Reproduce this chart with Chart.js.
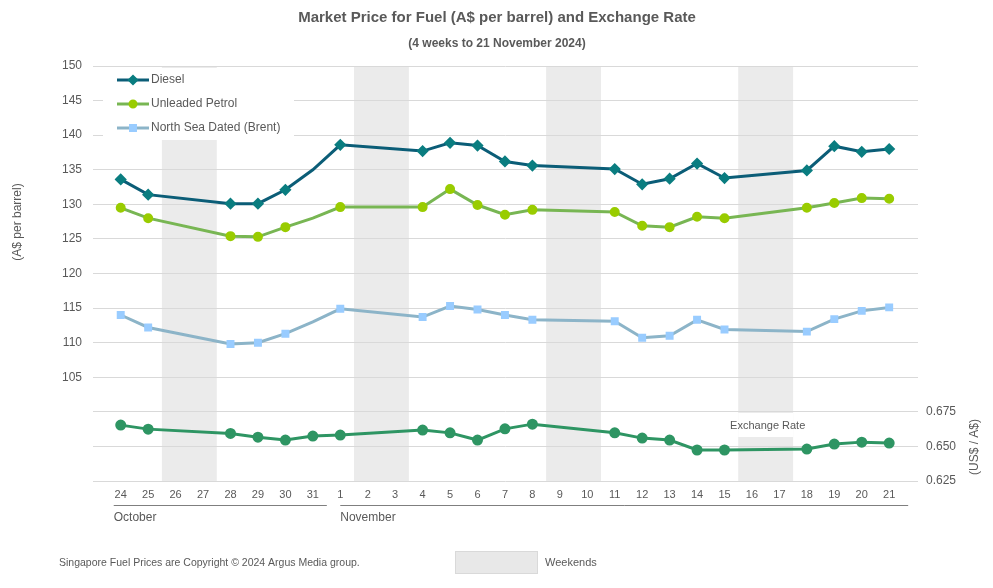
<!DOCTYPE html>
<html>
<head>
<meta charset="utf-8">
<title>Market Price for Fuel and Exchange Rate</title>
<script src="https://cdn.jsdelivr.net/npm/chart.js@4.4.1/dist/chart.umd.min.js"></script>
<style>
    html, body { margin: 0; padding: 0; background: #fff; }
    #fuelChart { display: block; }
</style>
</head>
<body>
<canvas id="fuelChart" width="993" height="588"></canvas>
<script>
// ===== DATA =====
const dayLabels = ['24','25','26','27','28','29','30','31','1','2','3','4','5','6','7','8','9','10','11','12','13','14','15','16','17','18','19','20','21'];
const months = [
    { name: 'October', from: 0, to: 7 },
    { name: 'November', from: 8, to: 28 }
];
const weekends = [[2, 3], [9, 10], [16, 17], [23, 24]];

// A$ per barrel (null = weekend)
const diesel   = [133.6, 131.4, null, null, 130.1, 130.1, 132.1, 135.0, 138.6, null, null, 137.7, 138.9, 138.5, 136.2, 135.6, null, null, 135.1, 132.9, 133.7, 135.9, 133.8, null, null, 134.9, 138.4, 137.6, 138.0];
const unleaded = [129.5, 128.0, null, null, 125.4, 125.3, 126.7, 128.0, 129.6, null, null, 129.6, 132.2, 129.9, 128.5, 129.2, null, null, 128.9, 126.9, 126.7, 128.2, 128.0, null, null, 129.5, 130.2, 130.9, 130.8];
const brent    = [114.0, 112.2, null, null, 109.8, 110.0, 111.3, 113.0, 114.9, null, null, 113.7, 115.3, 114.8, 114.0, 113.3, null, null, 113.1, 110.7, 111.0, 113.3, 111.9, null, null, 111.6, 113.4, 114.6, 115.1];
// US$ / A$
const exchangeRate = [0.6654, 0.6625, null, null, 0.6594, 0.6567, 0.6546, 0.6575, 0.6582, null, null, 0.6618, 0.6598, 0.6546, 0.6627, 0.6661, null, null, 0.6598, 0.6560, 0.6546, 0.6474, 0.6474, null, null, 0.6481, 0.6517, 0.6531, 0.6524];
// fuel prices for 31 Oct are drawn without a marker
const fuelNoMarker = [7];

const TEXT = '#595959';
const FONT = '"Liberation Sans", Arial, sans-serif';

function toPoints(values) {
    return values.map((v, i) => ({ x: i, y: v }));
}

function radii(values, r, skip) {
    return values.map((v, i) => (skip.includes(i) ? 0 : r));
}

// ===== PLUGINS =====
// weekend bands behind the grid
const weekendBands = {
    id: 'weekendBands',
    beforeDraw(chart) {
        const { ctx, chartArea, scales } = chart;
        const xs = scales.x;
        const half = (xs.getPixelForValue(1) - xs.getPixelForValue(0)) / 2;
        ctx.save();
        ctx.fillStyle = '#ebebeb';
        weekends.forEach(([a, b]) => {
            const x0 = xs.getPixelForValue(a) - half;
            const x1 = xs.getPixelForValue(b) + half;
            ctx.fillRect(x0, chartArea.top + 1, x1 - x0, chartArea.bottom - chartArea.top - 1);
        });
        ctx.restore();
    }
};

// legend box, "Exchange Rate" label, titles and footer
const decorations = {
    id: 'decorations',
    beforeDatasetsDraw(chart) {
        const { ctx, chartArea, scales } = chart;
        const xs = scales.x;
        const half = (xs.getPixelForValue(1) - xs.getPixelForValue(0)) / 2;
        ctx.save();
        ctx.fillStyle = '#ffffff';
        // legend background
        ctx.fillRect(103, chartArea.top + 2, 191, 72);
        // exchange rate label background
        const lx0 = xs.getPixelForValue(23) - half;
        const lx1 = xs.getPixelForValue(24) + half;
        ctx.fillRect(lx0, 413, lx1 - lx0, 24);
        ctx.fillStyle = TEXT;
        ctx.font = '11px ' + FONT;
        ctx.textAlign = 'center';
        ctx.textBaseline = 'middle';
        ctx.fillText('Exchange Rate', (lx0 + lx1) / 2 + 2, 426);
        ctx.restore();
    },
    afterDraw(chart) {
        const { ctx, scales } = chart;
        const xs = scales.x;
        ctx.save();
        ctx.fillStyle = TEXT;
        ctx.textBaseline = 'middle';

        // titles
        ctx.textAlign = 'center';
        ctx.font = 'bold 15px ' + FONT;
        ctx.fillText('Market Price for Fuel (A$ per barrel) and Exchange Rate', 497, 18);
        ctx.font = 'bold 12px ' + FONT;
        ctx.fillText('(4 weeks to 21 November 2024)', 497, 44);

        // axis titles
        ctx.font = '12px ' + FONT;
        ctx.save();
        ctx.translate(18, 222);
        ctx.rotate(-Math.PI / 2);
        ctx.fillText('(A$ per barrel)', 0, 0);
        ctx.restore();
        ctx.save();
        ctx.translate(975, 447);
        ctx.rotate(-Math.PI / 2);
        ctx.fillText('(US$ / A$)', 0, 0);
        ctx.restore();

        // month brackets
        ctx.strokeStyle = '#7f7f7f';
        ctx.lineWidth = 1;
        ctx.textAlign = 'left';
        ctx.font = '12px ' + FONT;
        months.forEach((m, i) => {
            const x0 = xs.getPixelForValue(m.from) - (i === 0 ? 7 : 0);
            const x1 = xs.getPixelForValue(m.to) + (i === 0 ? 14 : 19);
            ctx.beginPath();
            ctx.moveTo(x0, 505.5);
            ctx.lineTo(x1, 505.5);
            ctx.stroke();
            ctx.fillText(m.name, x0, 518);
        });

        // legend entries
        const items = [
            { label: 'Diesel', line: '#0b5d77', fill: '#0a7d80', style: 'rectRot', r: 3.5 },
            { label: 'Unleaded Petrol', line: '#78b653', fill: '#99cc00', style: 'circle', r: 3 },
            { label: 'North Sea Dated (Brent)', line: '#8cb4c8', fill: '#99ccff', style: 'rect', r: 3.5 }
        ];
        items.forEach((it, i) => {
            const y = 80 + i * 24;
            ctx.strokeStyle = it.line;
            ctx.lineWidth = 3;
            ctx.beginPath();
            ctx.moveTo(117, y);
            ctx.lineTo(149, y);
            ctx.stroke();
            ctx.fillStyle = it.fill;
            ctx.strokeStyle = it.fill;
            Chart.helpers.drawPoint(ctx, { pointStyle: it.style, radius: it.r, borderWidth: 1 }, 133, y);
            ctx.fillStyle = TEXT;
            ctx.font = '12px ' + FONT;
            ctx.fillText(it.label, 151, y);
        });

        // footer
        ctx.font = '10.5px ' + FONT;
        ctx.fillText('Singapore Fuel Prices are Copyright \u00A9 2024 Argus Media group.', 59, 563);
        ctx.fillStyle = '#e8e8e8';
        ctx.fillRect(455, 551, 82, 22);
        ctx.strokeStyle = '#d9d9d9';
        ctx.lineWidth = 1;
        ctx.strokeRect(455.5, 551.5, 82, 22);
        ctx.fillStyle = TEXT;
        ctx.font = '11px ' + FONT;
        ctx.fillText('Weekends', 545, 563);
        ctx.restore();
    }
};

// ===== CHART =====
function renderChart() {
    const ctx = document.getElementById('fuelChart');

    const datasets = [
        {
            label: 'Exchange Rate',
            data: toPoints(exchangeRate),
            yAxisID: 'y2',
            borderColor: '#2e9563',
            backgroundColor: '#2e9563',
            pointStyle: 'circle',
            pointRadius: 4,
            borderWidth: 3
        },
        {
            label: 'North Sea Dated (Brent)',
            data: toPoints(brent),
            yAxisID: 'y',
            borderColor: '#8cb4c8',
            backgroundColor: '#99ccff',
            pointBorderColor: '#99ccff',
            pointStyle: 'rect',
            pointRadius: radii(brent, 3.5, fuelNoMarker),
            borderWidth: 3
        },
        {
            label: 'Unleaded Petrol',
            data: toPoints(unleaded),
            yAxisID: 'y',
            borderColor: '#78b653',
            backgroundColor: '#99cc00',
            pointBorderColor: '#99cc00',
            pointStyle: 'circle',
            pointRadius: radii(unleaded, 3.5, fuelNoMarker),
            borderWidth: 3
        },
        {
            label: 'Diesel',
            data: toPoints(diesel),
            yAxisID: 'y',
            borderColor: '#0b5d77',
            backgroundColor: '#0a7d80',
            pointBorderColor: '#0a7d80',
            pointStyle: 'rectRot',
            pointRadius: radii(diesel, 4, fuelNoMarker),
            borderWidth: 3
        }
    ];

    new Chart(ctx, {
        type: 'line',
        data: { datasets },
        options: {
            responsive: false,
            animation: false,
            devicePixelRatio: 1,
            spanGaps: true,
            layout: { padding: { top: 66, right: 0, bottom: 0, left: 0 } },
            plugins: {
                legend: { display: false },
                title: { display: false },
                tooltip: { enabled: false }
            },
            elements: {
                line: { tension: 0 },
                point: { borderWidth: 1 }
            },
            scales: {
                x: {
                    type: 'linear',
                    min: -1.01,
                    max: 29.05,
                    afterBuildTicks: (scale) => {
                        scale.ticks = dayLabels.map((d, i) => ({ value: i }));
                    },
                    afterFit: (scale) => { scale.height = 107; },
                    ticks: {
                        autoSkip: false,
                        maxRotation: 0,
                        padding: 7,
                        color: TEXT,
                        font: { size: 11, family: FONT },
                        callback: (v) => dayLabels[v]
                    },
                    grid: { display: false, drawTicks: false },
                    border: { display: false }
                },
                y: {
                    position: 'left',
                    min: 90,
                    max: 150,
                    afterFit: (scale) => { scale.width = 93; },
                    ticks: {
                        stepSize: 5,
                        padding: 11,
                        color: TEXT,
                        font: { size: 12, family: FONT },
                        callback: (v) => (v >= 105 ? v : '')
                    },
                    grid: { color: '#d9d9d9', lineWidth: 1, drawTicks: false },
                    border: { display: false }
                },
                y2: {
                    position: 'right',
                    min: 0.625,
                    max: 0.925,
                    afterFit: (scale) => { scale.width = 75; },
                    ticks: {
                        stepSize: 0.025,
                        padding: 8,
                        color: TEXT,
                        font: { size: 12, family: FONT },
                        callback: (v) => (v <= 0.6751 ? v.toFixed(3) : '')
                    },
                    grid: { display: false, drawTicks: false },
                    border: { display: false }
                }
            }
        },
        plugins: [weekendBands, decorations]
    });
}

window.addEventListener('DOMContentLoaded', renderChart);
</script>
</body>
</html>
